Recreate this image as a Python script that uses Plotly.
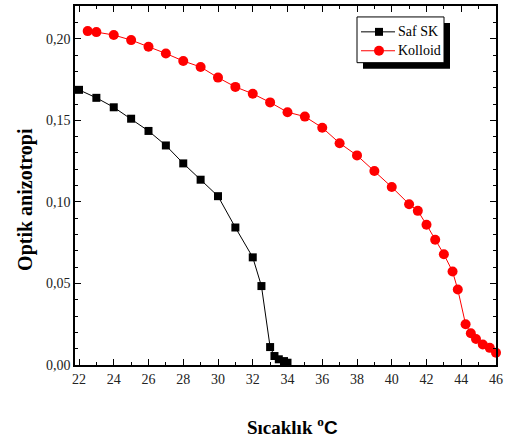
import plotly.graph_objects as go

saf_T = [22, 23, 24, 25, 26, 27, 28, 29, 30, 31, 32, 32.5, 33, 33.25, 33.5, 33.8, 34.0]
saf_v = [0.1687, 0.1638, 0.158, 0.151, 0.1435, 0.1346, 0.1236, 0.1136, 0.1035, 0.0843,
         0.066, 0.0484, 0.011, 0.0055, 0.0035, 0.0024, 0.0014]

kol_T = [22.5, 23, 24, 25, 26, 27, 28, 29, 30, 31, 32, 33, 34, 35, 36, 37, 38, 39, 40,
         41, 41.5, 42, 42.5, 43, 43.5, 43.8, 44.25, 44.55, 44.85, 45.24, 45.64, 46]
kol_v = [0.2047, 0.2041, 0.2023, 0.1992, 0.1951, 0.191, 0.1864, 0.1827, 0.1762, 0.1705,
         0.1663, 0.161, 0.155, 0.1523, 0.1455, 0.136, 0.1285, 0.1189, 0.1091,
         0.0986, 0.0945, 0.086, 0.0768, 0.0679, 0.0573, 0.0463, 0.025, 0.0195, 0.0159,
         0.0126, 0.0105, 0.0075]

series_names = ["Saf SK", "Kolloid"]
series_colors = ["black", "red"]
series_symbols = ["square", "circle"]

FONT = "Liberation Serif"

fig = go.Figure()
for name, T, v, col, sym, sz in [(series_names[0], saf_T, saf_v, series_colors[0], series_symbols[0], 8),
                                 (series_names[1], kol_T, kol_v, series_colors[1], series_symbols[1], 10)]:
    fig.add_trace(go.Scatter(x=T, y=v, name=name, mode="lines+markers",
                             line=dict(color=col, width=1),
                             marker=dict(symbol=sym, size=sz, color=col),
                             cliponaxis=False, showlegend=False))

axis_common = dict(showline=True, linecolor="black", linewidth=1.5, mirror="allticks",
                   ticks="inside", ticklen=6, tickwidth=1, tickcolor="black",
                   showgrid=False, zeroline=False,
                   tickfont=dict(family=FONT, size=14, color="#222"))

fig.update_xaxes(range=[21.77, 46.0], dtick=2, tick0=22,
                 minor=dict(dtick=1, ticks="inside", ticklen=3, tickcolor="black"),
                 **axis_common)
fig.update_yaxes(range=[0, 0.2201], dtick=0.05, tick0=0, tickformat=".2f",
                 minor=dict(dtick=0.01, ticks="inside", ticklen=3, tickcolor="black"),
                 **axis_common)


def px(x):
    return (x - 75) / 421


def py(y):
    return (365 - y) / 361


# axis titles
fig.add_annotation(xref="paper", yref="paper", x=px(292), y=py(426),
                   xanchor="center", yanchor="middle", showarrow=False,
                   text="<b>Sıcaklık <sup>o</sup><span style='font-family:Liberation Sans'>C</span></b>",
                   font=dict(family=FONT, size=19, color="black"))
fig.add_annotation(xref="paper", yref="paper", x=px(26), y=py(199),
                   xanchor="center", yanchor="middle", showarrow=False, textangle=-90,
                   text="<b>Optik anizotropi</b>",
                   font=dict(family=FONT, size=20, color="black"))

# legend box with shadow
fig.add_shape(type="rect", xref="paper", yref="paper",
              x0=px(363), x1=px(450), y0=py(67), y1=py(21),
              fillcolor="black", line=dict(width=0), layer="above")
fig.add_shape(type="rect", xref="paper", yref="paper",
              x0=px(357), x1=px(444), y0=py(61), y1=py(15),
              fillcolor="white", line=dict(color="black", width=1), layer="above")
for i, (name, col, sym) in enumerate(zip(series_names, series_colors, series_symbols)):
    yc = 30 + i * 19
    fig.add_shape(type="line", xref="paper", yref="paper",
                  x0=px(361), x1=px(395), y0=py(yc), y1=py(yc),
                  line=dict(color=col, width=1), layer="above")
    r = 4 if sym == "square" else 5
    fig.add_shape(type="rect" if sym == "square" else "circle", xref="paper", yref="paper",
                  x0=px(379 - r), x1=px(379 + r), y0=py(yc + r), y1=py(yc - r),
                  fillcolor=col, line=dict(width=0), layer="above")
    fig.add_annotation(xref="paper", yref="paper", x=px(396), y=py(yc),
                       xanchor="left", yanchor="middle", showarrow=False,
                       text=name, font=dict(family=FONT, size=14, color="black"))

fig.update_layout(
    width=507, height=439,
    margin=dict(l=75, r=11, t=4, b=74),
    plot_bgcolor="white", paper_bgcolor="white",
    separators=", ",
    showlegend=False,
)

fig.write_html("out.html")
